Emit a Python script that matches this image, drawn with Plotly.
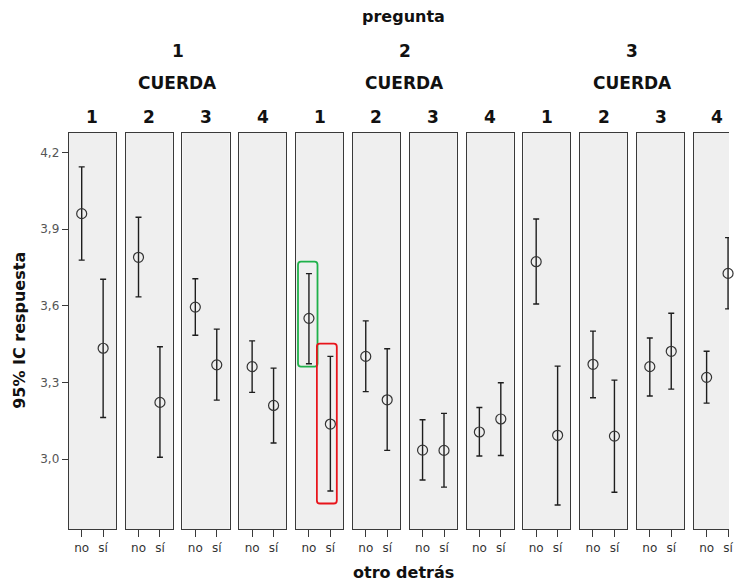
import plotly.graph_objects as go

# ---------------- data ----------------
preguntas = ["1", "2", "3"]
cuerdas = ["1", "2", "3", "4"]
categories = ["no", "sí"]

# mean, upper and lower 95% CI per panel (pregunta x cuerda), for [no, sí]
means = [
    [3.961, 3.434], [3.790, 3.222], [3.595, 3.369], [3.362, 3.210],
    [3.551, 3.137], [3.402, 3.232], [3.035, 3.034], [3.106, 3.157],
    [3.773, 3.093], [3.371, 3.090], [3.362, 3.422], [3.320, 3.727],
]
uppers = [
    [4.144, 3.704], [3.947, 3.440], [3.706, 3.509], [3.463, 3.356],
    [3.726, 3.402], [3.541, 3.432], [3.154, 3.179], [3.202, 3.299],
    [3.940, 3.364], [3.501, 3.309], [3.474, 3.571], [3.422, 3.867],
]
lowers = [
    [3.779, 3.163], [3.635, 3.007], [3.485, 3.231], [3.261, 3.063],
    [3.373, 2.875], [3.264, 3.034], [2.918, 2.890], [3.012, 3.014],
    [3.607, 2.820], [3.240, 2.870], [3.247, 3.274], [3.219, 3.588],
]
y_ticks = [3.0, 3.3, 3.6, 3.9, 4.2]
y_ticktext = ["3,0", "3,3", "3,6", "3,9", "4,2"]

# ---------------- layout geometry ----------------
W, H = 734, 583
FONT = "DejaVu Sans"
panel_left0 = 69.3
panel_step = 57.2
panel_w = 47.5
plot_top, plot_bottom = 132.7, 529.3
px_per_cat = panel_w / 2.2


def fx(px):
    return px / W


def fy(py):
    return (H - py) / H


fig = go.Figure()
layout_axes = {}
n = len(means)
for i in range(n):
    k = "" if i == 0 else str(i + 1)
    left = panel_left0 + panel_step * i
    right = min(left + panel_w, W)
    last = right >= W
    xr = [-0.6, -0.6 + (right - left) / px_per_cat] if last else [-0.6, 1.6]
    m, u, l = means[i], uppers[i], lowers[i]
    fig.add_trace(go.Scatter(
        x=categories, y=m, mode="markers",
        xaxis="x" + k, yaxis="y" + k,
        marker=dict(symbol="circle-open", size=10, color="#333333",
                    line=dict(width=1.2, color="#333333")),
        error_y=dict(type="data", symmetric=False,
                     array=[u[j] - m[j] for j in range(2)],
                     arrayminus=[m[j] - l[j] for j in range(2)],
                     color="#1e1e1e", thickness=1.4, width=3),
        showlegend=False, cliponaxis=False, hoverinfo="skip",
    ))
    layout_axes["xaxis" + k] = dict(
        domain=[fx(left), fx(right)], anchor="y" + k,
        type="category", range=xr, showgrid=False, zeroline=False,
        showline=True, mirror=True, linecolor="#3a3a3a", linewidth=1.2,
        ticks="outside", ticklen=7, tickwidth=1.2, tickcolor="#3a3a3a",
        tickfont=dict(family=FONT, size=12, color="#333333"),
        fixedrange=True,
    )
    layout_axes["yaxis" + k] = dict(
        domain=[fy(plot_bottom), fy(plot_top)], anchor="x" + k,
        range=[2.725, 4.278], showgrid=False, zeroline=False,
        showline=True, mirror=not last, linecolor="#3a3a3a", linewidth=1.2,
        tickvals=y_ticks, ticktext=y_ticktext,
        ticks="outside" if i == 0 else "", ticklen=6, tickwidth=1.2,
        tickcolor="#3a3a3a",
        showticklabels=(i == 0),
        tickfont=dict(family=FONT, size=12, color="#555555"),
        fixedrange=True,
    )


def label(text, x, y, size, angle=0):
    return dict(text=text, x=x, y=y, xref="paper", yref="paper", showarrow=False,
                xanchor="center", yanchor="middle", textangle=angle,
                font=dict(family=FONT, size=size, color="#111111"))


annotations = []
# cuerda numbers above each panel
for i in range(n):
    left = panel_left0 + panel_step * i
    annotations.append(label("<b>%s</b>" % cuerdas[i % 4], fx(left + panel_w / 2), fy(117), 17))
# pregunta groups
for g, p in enumerate(preguntas):
    gl = panel_left0 + panel_step * 4 * g
    gr = gl + panel_step * 3 + panel_w
    cx = fx((gl + gr) / 2)
    annotations.append(label("<b>%s</b>" % p, cx, fy(51), 17))
    annotations.append(label("<b>CUERDA</b>", cx, fy(83), 17))
annotations.append(label("<b>pregunta</b>", fx(406), fy(17), 16))
annotations.append(label("<b>otro detrás</b>", fx(406), fy(572), 16))
annotations.append(label("<b>95% IC respuesta</b>", fx(19), fy(330), 16, angle=-90))


def rounded(x0, x1, y0, y1, rx=0.14, ry=0.012):
    return ("M {a},{y0} L {b},{y0} Q {x1},{y0} {x1},{c} L {x1},{d} Q {x1},{y1} {b},{y1} "
            "L {a},{y1} Q {x0},{y1} {x0},{d} L {x0},{c} Q {x0},{y0} {a},{y0} Z").format(
        a=x0 + rx, b=x1 - rx, c=y0 + ry, d=y1 - ry, x0=x0, x1=x1, y0=y0, y1=y1)


shapes = [
    dict(type="path", xref="x5", yref="y5", path=rounded(-0.51, 0.40, 3.362, 3.773),
         line=dict(color="#1fb14a", width=1.8), layer="above"),
    dict(type="path", xref="x5", yref="y5", path=rounded(0.37, 1.30, 2.826, 3.452),
         line=dict(color="#e8141b", width=1.8), layer="above"),
]

fig.update_layout(
    width=W, height=H,
    margin=dict(l=0, r=0, t=0, b=0),
    paper_bgcolor="white", plot_bgcolor="#efefef",
    annotations=annotations, shapes=shapes,
    font=dict(family=FONT),
    **layout_axes,
)

fig.write_html("out.html", config={"displayModeBar": False},
               post_script="document.body.style.margin='0';")
